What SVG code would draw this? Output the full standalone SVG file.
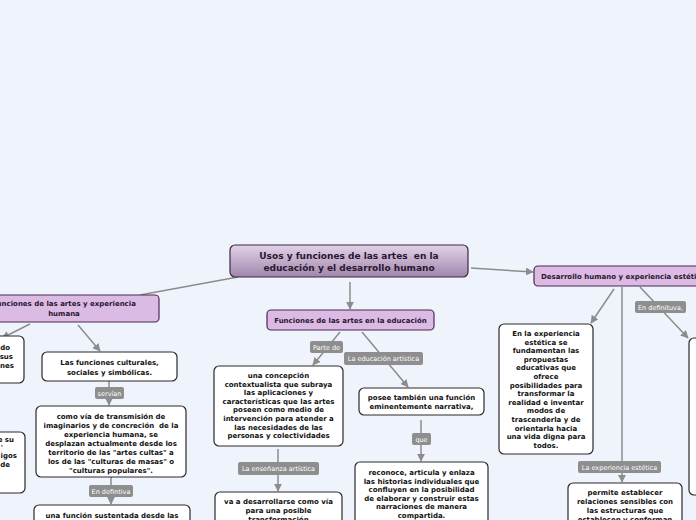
<svg xmlns="http://www.w3.org/2000/svg" width="696" height="520" viewBox="0 0 696 520">
<defs>
<linearGradient id="cg" x1="0" y1="0" x2="0" y2="1">
<stop offset="0" stop-color="#e2d2e8"/>
<stop offset="1" stop-color="#a086ab"/>
</linearGradient>
<marker id="ah" viewBox="0 0 10 10" refX="9" refY="5" markerWidth="8" markerHeight="8" markerUnits="userSpaceOnUse" orient="auto">
<path d="M0,0 L10,5 L0,10 z" fill="#8c8c8c"/>
</marker>
<style>
.bg{fill:#eff3fc}
.ln{stroke:#8c8c8c;stroke-width:1.5;fill:none}
.ar{marker-end:url(#ah)}
.lb rect{fill:#8e8e8e}
.lb text{font-family:"DejaVu Sans",Verdana,sans-serif;font-size:6.5px;fill:#ffffff;text-anchor:middle}
.wn{fill:#ffffff;stroke:#2a2a2a;stroke-width:1.2}
.pn{fill:#dbbbe3;stroke:#4a2b55;stroke-width:1.2}
.cn{fill:url(#cg);stroke:#3a2a40;stroke-width:1.2}
.t{font-family:"DejaVu Sans",Verdana,sans-serif;font-weight:bold;font-size:7px;fill:#111;text-anchor:middle}
.tp{font-family:"DejaVu Sans",Verdana,sans-serif;font-weight:bold;font-size:7px;fill:#2a1530;text-anchor:middle}
.tc{font-family:"DejaVu Sans",Verdana,sans-serif;font-weight:bold;font-size:9px;fill:#2a1530;text-anchor:middle}
</style>
</defs>
<rect class="bg" x="0" y="0" width="696" height="520"/>
<g id="connectors">
<line class="ln" x1="238" y1="277" x2="140" y2="295"/>
<line class="ln ar" x1="350" y1="282" x2="350" y2="309"/>
<line class="ln ar" x1="471" y1="268" x2="533" y2="272"/>
<line class="ln ar" x1="30" y1="324" x2="2" y2="338"/>
<line class="ln ar" x1="78" y1="325" x2="100" y2="351"/>
<line class="ln ar" x1="109" y1="381" x2="109" y2="405"/>
<line class="ln ar" x1="111" y1="477" x2="111" y2="504"/>
<line class="ln ar" x1="340" y1="332" x2="313" y2="365"/>
<line class="ln ar" x1="362" y1="332" x2="408" y2="387"/>
<line class="ln ar" x1="421" y1="420" x2="421" y2="461"/>
<line class="ln ar" x1="278" y1="449" x2="278" y2="491"/>
<line class="ln ar" x1="614" y1="289" x2="591" y2="323"/>
<line class="ln ar" x1="622" y1="287" x2="622" y2="482"/>
<line class="ln ar" x1="640" y1="287" x2="688" y2="338"/>
<g class="lb"><rect x="95" y="387" width="29" height="12" rx="2"/><text x="109.5" y="395.5">servían</text></g>
<g class="lb"><rect x="89" y="485" width="44" height="12" rx="2"/><text x="111" y="493.5">En defintiva</text></g>
<g class="lb"><rect x="310" y="341" width="33" height="12" rx="2"/><text x="326.5" y="349.5">Parte de</text></g>
<g class="lb"><rect x="344" y="352" width="79" height="13" rx="2"/><text x="383.5" y="361">La educación artística</text></g>
<g class="lb"><rect x="412" y="433" width="19" height="12" rx="2"/><text x="421.5" y="441.5">que</text></g>
<g class="lb"><rect x="238" y="462" width="81" height="13" rx="2"/><text x="278.5" y="471">La enseñanza artística</text></g>
<g class="lb"><rect x="635" y="301" width="51" height="12" rx="2"/><text x="660.5" y="309.5">En definituva,</text></g>
<g class="lb"><rect x="578" y="461" width="83" height="12" rx="2"/><text x="619.5" y="469.5">La experiencia estética</text></g>
</g>
<g id="central">
<rect class="cn" x="230" y="245" width="238" height="32" rx="5"/>
<text class="tc" x="349" y="259" xml:space="preserve">Usos y funciones de las artes  en la</text>
<text class="tc" x="349" y="271">educación y el desarrollo humano</text>
</g>
<g id="n-funciones-experiencia">
<rect class="pn" x="-32" y="295" width="191" height="27" rx="4"/>
<text class="tp" x="64" y="306">Funciones de las artes y experiencia</text>
<text class="tp" x="64" y="316">humana</text>
</g>
<g id="n-left-a">
<rect class="wn" x="-60" y="336" width="84" height="47" rx="5"/>
<text class="t" x="10" y="350" style="text-anchor:end">do</text>
<text class="t" x="13" y="359" style="text-anchor:end">sus</text>
<text class="t" x="14" y="368" style="text-anchor:end">nes</text>
</g>
<g id="n-left-b">
<rect class="wn" x="-60" y="432" width="85" height="61" rx="5"/>
<text class="t" x="14" y="442" style="text-anchor:end">e su</text>
<text class="t" x="3" y="450" style="text-anchor:end">'</text>
<text class="t" x="17" y="458" style="text-anchor:end">igos</text>
<text class="t" x="10" y="467" style="text-anchor:end">de</text>
</g>
<g id="n-culturales">
<rect class="wn" x="42" y="352" width="135" height="29" rx="5"/>
<text class="t" x="109.5" y="365">Las funciones culturales,</text>
<text class="t" x="109.5" y="375">sociales y simbólicas.</text>
</g>
<g id="n-transmision">
<rect class="wn" x="36" y="406" width="150" height="71" rx="5"/>
<text class="t" x="111" y="419">como vía de transmisión de</text>
<text class="t" x="111" y="428" xml:space="preserve">imaginarios y de concreción  de la</text>
<text class="t" x="111" y="437">experiencia humana, se</text>
<text class="t" x="111" y="446">desplazan actualmente desde los</text>
<text class="t" x="111" y="455">territorio de las "artes cultas" a</text>
<text class="t" x="111" y="464">los de las "culturas de masas" o</text>
<text class="t" x="111" y="473">"culturas populares".</text>
</g>
<g id="n-sustentada">
<rect class="wn" x="34" y="505" width="156" height="30" rx="5"/>
<text class="t" x="112" y="518">una función sustentada desde las</text>
</g>
<g id="n-educacion">
<rect class="pn" x="267" y="310" width="167" height="20" rx="4"/>
<text class="tp" x="350.5" y="323">Funciones de las artes en la educación</text>
</g>
<g id="n-concepcion">
<rect class="wn" x="214" y="366" width="129" height="80" rx="5"/>
<text class="t" x="278.5" y="378">una concepción</text>
<text class="t" x="278.5" y="386.6">contextualista que subraya</text>
<text class="t" x="278.5" y="395.2">las aplicaciones y</text>
<text class="t" x="278.5" y="403.8">características que las artes</text>
<text class="t" x="278.5" y="412.4">poseen como medio de</text>
<text class="t" x="278.5" y="421">intervención para atender a</text>
<text class="t" x="278.5" y="429.6">las necesidades de las</text>
<text class="t" x="278.5" y="438.2">personas y colectividades</text>
</g>
<g id="n-narrativa">
<rect class="wn" x="359" y="388" width="125" height="27" rx="5"/>
<text class="t" x="421.5" y="400">posee también una función</text>
<text class="t" x="421.5" y="409">eminentemente narrativa,</text>
</g>
<g id="n-reconoce">
<rect class="wn" x="355" y="462" width="133" height="70" rx="5"/>
<text class="t" x="421.5" y="475">reconoce, articula y enlaza</text>
<text class="t" x="421.5" y="483.6">las historias individuales que</text>
<text class="t" x="421.5" y="492.2">confluyen en la posibilidad</text>
<text class="t" x="421.5" y="500.8">de elaborar y construir estas</text>
<text class="t" x="421.5" y="509.4">narraciones de manera</text>
<text class="t" x="421.5" y="518">compartida.</text>
</g>
<g id="n-transformacion">
<rect class="wn" x="215" y="492" width="127" height="40" rx="5"/>
<text class="t" x="278.5" y="504">va a desarrollarse como vía</text>
<text class="t" x="278.5" y="513">para una posible</text>
<text class="t" x="278.5" y="522">transformación</text>
</g>
<g id="n-desarrollo">
<rect class="pn" x="534" y="266" width="180" height="20" rx="4"/>
<text class="tp" x="541" y="279" style="text-anchor:start">Desarrollo humano y experiencia estética</text>
</g>
<g id="n-experiencia">
<rect class="wn" x="499" y="324" width="94" height="130" rx="5"/>
<text class="t" x="546" y="336">En la experiencia</text>
<text class="t" x="546" y="344.6">estética se</text>
<text class="t" x="546" y="353.2">fundamentan las</text>
<text class="t" x="546" y="361.8">propuestas</text>
<text class="t" x="546" y="370.4">educativas que</text>
<text class="t" x="546" y="379">ofrece</text>
<text class="t" x="546" y="387.6">posibilidades para</text>
<text class="t" x="546" y="396.2">transformar la</text>
<text class="t" x="546" y="404.8">realidad e inventar</text>
<text class="t" x="546" y="413.4">modos de</text>
<text class="t" x="546" y="422">trascenderla y de</text>
<text class="t" x="546" y="430.6">orientarla hacia</text>
<text class="t" x="546" y="439.2">una vida digna para</text>
<text class="t" x="546" y="447.8">todos.</text>
</g>
<g id="n-permite">
<rect class="wn" x="568" y="483" width="114" height="50" rx="5"/>
<text class="t" x="625" y="495">permite establecer</text>
<text class="t" x="625" y="504">relaciones sensibles con</text>
<text class="t" x="625" y="513">las estructuras que</text>
<text class="t" x="625" y="522">establecen y conforman</text>
</g>
<g id="n-right-c">
<rect class="wn" x="689" y="338" width="40" height="157" rx="5"/>
</g>
</svg>
